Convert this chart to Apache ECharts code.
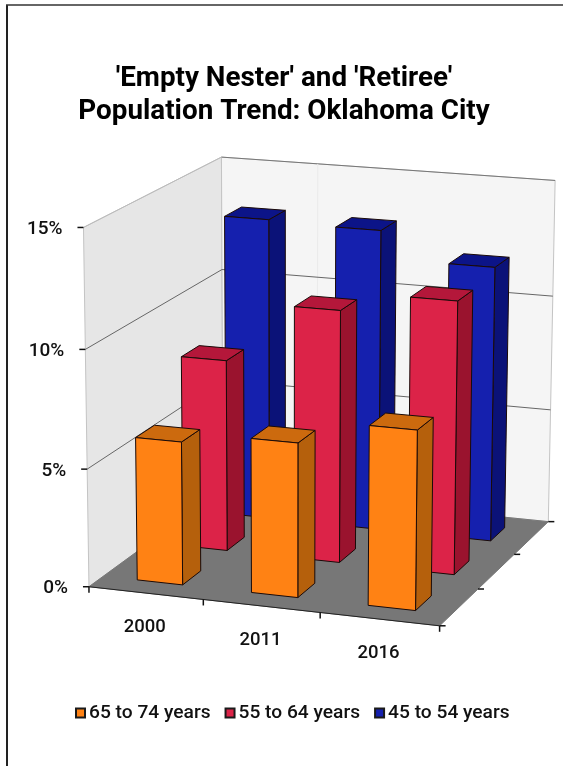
<!DOCTYPE html>
<html>
<head>
<meta charset="utf-8">
<style>html,body{margin:0;padding:0;background:#fff}#chart{width:563px;height:766px}</style>
<script src="https://cdn.jsdelivr.net/npm/echarts@6/dist/echarts.min.js"></script>
</head>
<body>
<div id="chart"></div>
<script>
// Population shares by age group, in percent
const years = ['2000', '2011', '2016'];
const age65to74 = [6.07, 6.5, 7.5];
const age55to64 = [8.25, 10.8, 11.6];
const age45to54 = [13.2, 13.1, 11.9];
const valueTicks = [0, 5, 10, 15];
const valueTickLabels = ['0%', '5%', '10%', '15%'];

const FONT = 'Roboto, sans-serif';
const GRID = { left: 90, top: 227, width: 349, height: 359 };
const BAR_HALF = 0.2;      // half a bar, as a share of its slot
const SLOTS = 3;

// Camera calibration: box corners [across, up, deep] and where they land on screen
const boxCorners = [
  [[0, 0, 0], [90, 586]], [[0, 1, 0], [83, 227]], [[0, 0, 1], [222, 490]],
  [[0, 1, 1], [222, 157]], [[1, 0, 0], [439, 627]], [[1, 0, 1], [549, 520]],
  [[1, 1, 1], [555, 181]]
];

// Least-squares fit of an 11-parameter projective camera
function fitCamera(pairs) {
  const rows = [], rhs = [];
  pairs.forEach(([[a, b, c], [sx, sy]]) => {
    rows.push([a, b, c, 1, 0, 0, 0, 0, -sx * a, -sx * b, -sx * c]); rhs.push(sx);
    rows.push([0, 0, 0, 0, a, b, c, 1, -sy * a, -sy * b, -sy * c]); rhs.push(sy);
  });
  const n = 11;
  const A = Array.from({ length: n }, (_, i) => {
    const line = [];
    for (let j = 0; j < n; j++) line.push(rows.reduce((s, r) => s + r[i] * r[j], 0));
    line.push(rows.reduce((s, r, k) => s + r[i] * rhs[k], 0));
    return line;
  });
  for (let i = 0; i < n; i++) {
    let p = i;
    for (let k = i + 1; k < n; k++) if (Math.abs(A[k][i]) > Math.abs(A[p][i])) p = k;
    [A[i], A[p]] = [A[p], A[i]];
    for (let k = 0; k < n; k++) {
      if (k === i) continue;
      const f = A[k][i] / A[i][i];
      for (let j = i; j <= n; j++) A[k][j] -= f * A[i][j];
    }
  }
  return A.map((r, i) => r[n] / r[i]);
}
const cam = fitCamera(boxCorners);
function toScreen(a, b, c) {
  const w = cam[8] * a + cam[9] * b + cam[10] * c + 1;
  return [(cam[0] * a + cam[1] * b + cam[2] * c + cam[3]) / w,
          (cam[4] * a + cam[5] * b + cam[6] * c + cam[7]) / w];
}

// Projects an across-share, a value on the y axis and a depth-share to the screen
function projector(params, api) {
  const cs = params.coordSys;
  return (across, value, deep) => {
    const y = api.coord([0, value])[1];
    return toScreen(across, (cs.y + cs.height - y) / cs.height, deep);
  };
}
const poly = (points, fill, stroke, lineWidth) => ({
  type: 'polygon', shape: { points }, style: { fill, stroke, lineWidth }
});
const seg = (a, b, stroke, lineWidth) => ({
  type: 'line', shape: { x1: a[0], y1: a[1], x2: b[0], y2: b[1] }, style: { stroke, lineWidth }
});
const label = (p, text, align, size) => ({
  type: 'text',
  style: { text, x: p[0], y: p[1], fill: '#111', align, verticalAlign: 'middle',
           font: '500 ' + size + 'px ' + FONT }
});

// Walls, floor, grid lines, ticks and axis labels
function renderBox(params, api) {
  const P = projector(params, api);
  const top = valueTicks[valueTicks.length - 1];
  const kids = [];
  kids.push(poly([P(0, 0, 0), P(0, top, 0), P(0, top, 1), P(0, 0, 1)], '#e6e6e6', '#c4c4c4', 1));
  kids.push(poly([P(0, 0, 1), P(0, top, 1), P(1, top, 1), P(1, 0, 1)], '#f5f5f5', '#c4c4c4', 1));
  kids.push(seg(P(0, top, 1), P(1, top, 1), '#777', 1));
  kids.push(seg(P(0, top, 0), P(0, top, 1), '#bbb', 1));
  kids.push(seg(P(0.295, 0, 1), P(0.295, top, 1), '#ebebeb', 1));
  kids.push(poly([P(0, 0, 0), P(1, 0, 0), P(1, 0, 1), P(0, 0, 1)], '#777777', '#777777', 1));
  kids.push(seg(P(0, 0, 0), P(1, 0, 0), '#222', 1));
  valueTicks.forEach((t, i) => {
    if (t > 0 && t < top) {
      kids.push(seg(P(0, t, 0), P(0, t, 1), '#666', 1));
      kids.push(seg(P(0, t, 1), P(1, t, 1), '#666', 1));
    }
    const f = P(0, t, 0);
    kids.push(seg([f[0] - 6, f[1]], f, '#111', 1.5));
    kids.push(label([f[0] - 21, f[1] + 2], valueTickLabels[i], 'right', 19));
  });
  for (let i = 0; i <= SLOTS; i++) {
    const b = P(i / SLOTS, 0, 0);
    kids.push(seg(b, [b[0], b[1] + 6], '#111', 1.5));
    const r = P(1, 0, i / SLOTS);
    kids.push(seg(r, [r[0] + 6, r[1]], '#111', 1.5));
    if (i < SLOTS) {
      const c = P((i + 0.5) / SLOTS, 0, 0);
      kids.push(label([c[0] - 1, c[1] + 34], years[i], 'center', 18.5));
    }
  }
  return { type: 'group', children: kids };
}

// One box-shaped bar, sitting in depth slot `slot`
function barRenderer(slot, faces) {
  return (params, api) => {
    const P = projector(params, api);
    const cs = params.coordSys;
    const value = api.value(1);
    const mid = (api.coord([api.value(0), 0])[0] - cs.x) / cs.width;
    const half = BAR_HALF / SLOTS;
    const d0 = (slot + 0.5 - BAR_HALF) / SLOTS, d1 = (slot + 0.5 + BAR_HALF) / SLOTS;
    const l = mid - half, r = mid + half;
    return {
      type: 'group',
      children: [
        poly([P(r, 0, d0), P(r, value, d0), P(r, value, d1), P(r, 0, d1)], faces.side, '#1a0a08', 1),
        poly([P(l, value, d0), P(r, value, d0), P(r, value, d1), P(l, value, d1)], faces.top, '#1a0a08', 1),
        poly([P(l, 0, d0), P(l, value, d0), P(r, value, d0), P(r, 0, d0)], faces.front, '#1a0a08', 1)
      ]
    };
  };
}

const pairs = vals => vals.map((v, i) => [i, v]);
const barSeries = (name, vals, slot, faces) => ({
  name, type: 'custom', coordinateSystem: 'cartesian2d', clip: false,
  encode: { x: 0, y: 1 }, data: pairs(vals), renderItem: barRenderer(slot, faces),
  itemStyle: { color: faces.front, borderColor: '#1a1a1a', borderWidth: 2 }, z: 3
});

const chart = echarts.init(document.getElementById('chart'), null, { renderer: 'canvas' });
chart.setOption({
  animation: false,
  backgroundColor: '#fff',
  title: {
    text: "'Empty Nester' and 'Retiree'\nPopulation Trend: Oklahoma City",
    left: 279, top: 57,
    textAlign: 'center',
    textStyle: { fontFamily: FONT, fontWeight: 'bold', fontSize: 27.8, lineHeight: 33.5, color: '#000', align: 'center' }
  },
  legend: {
    left: 70, top: 698.5, itemWidth: 9, itemHeight: 9, itemGap: 14,
    icon: 'rect',
    data: ['65 to 74 years', '55 to 64 years', '45 to 54 years'],
    textStyle: { fontFamily: FONT, fontWeight: 500, fontSize: 19.2, color: '#111', padding: [0, 0, 0, -1] }
  },
  grid: GRID,
  xAxis: { type: 'category', data: years, show: false },
  yAxis: { type: 'value', min: 0, max: 15, interval: 5, show: false },
  graphic: [
    { type: 'line', shape: { x1: 7, y1: 5, x2: 7, y2: 766 }, style: { stroke: '#222', lineWidth: 2 } },
    { type: 'line', shape: { x1: 6, y1: 5, x2: 563, y2: 5 }, style: { stroke: '#333', lineWidth: 1.5 } }
  ],
  series: [
    { type: 'custom', coordinateSystem: 'cartesian2d', clip: false, silent: true,
      data: [[0, 0]], encode: { x: 0, y: 1 }, renderItem: renderBox, z: 1 },
    barSeries('45 to 54 years', age45to54, 2, { front: '#1520ae', side: '#0b1278', top: '#0c1488' }),
    barSeries('55 to 64 years', age55to64, 1, { front: '#dc2348', side: '#9a132e', top: '#b4173a' }),
    barSeries('65 to 74 years', age65to74, 0, { front: '#ff8214', side: '#b5600c', top: '#cc6a0e' })
  ]
});
</script>
</body>
</html>
